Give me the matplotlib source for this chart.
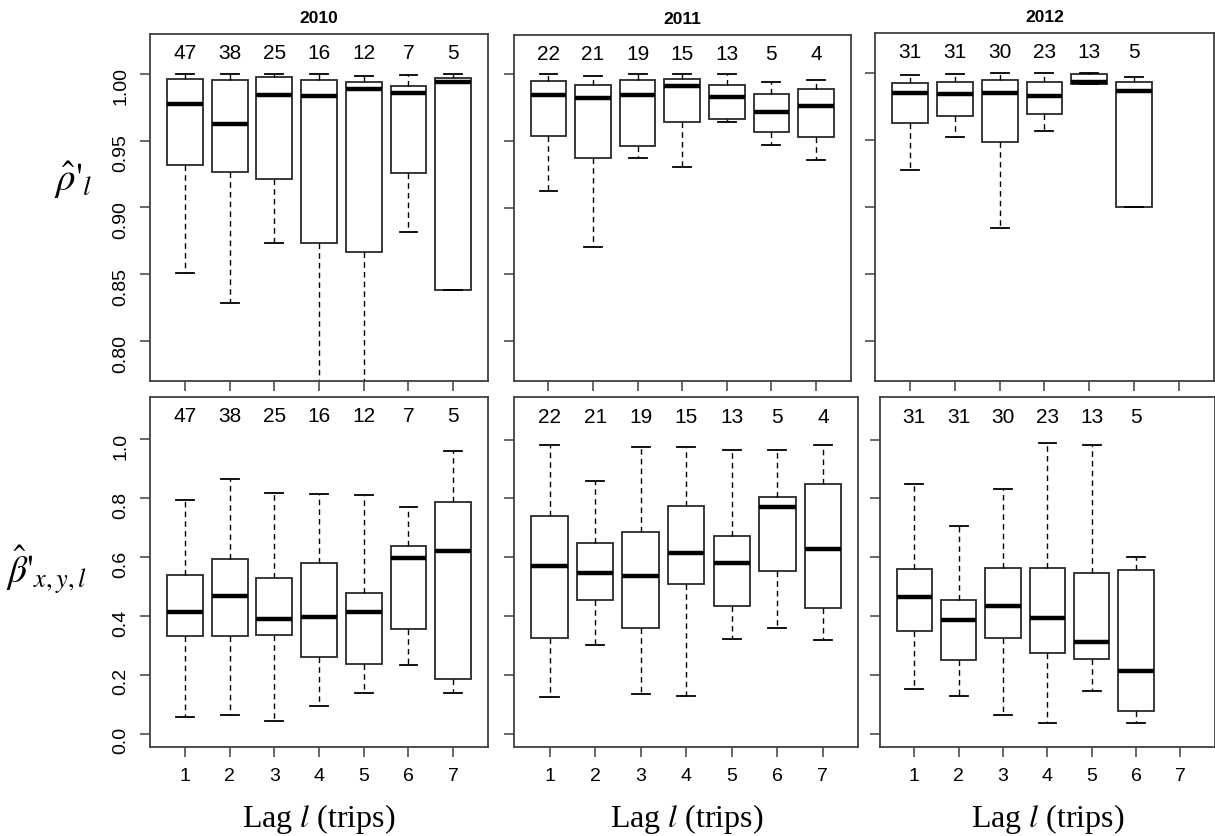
import matplotlib
matplotlib.use("Agg")
import matplotlib.pyplot as plt

plt.rcParams["font.family"] = ["Liberation Sans", "DejaVu Sans"]
plt.rcParams["mathtext.fontset"] = "stix"

years = ["2010", "2011", "2012"]
lags = [1, 2, 3, 4, 5, 6, 7]

n_2010 = [47, 38, 25, 16, 12, 7, 5]
n_2011 = [22, 21, 19, 15, 13, 5, 4]
n_2012 = [31, 31, 30, 23, 13, 5]

# five-number summaries per lag: (lower whisker, Q1, median, Q3, upper whisker)
rho_2010 = [
    (0.851, 0.932, 0.9775, 0.9962, 1.000),
    (0.8285, 0.9265, 0.9625, 0.9955, 1.000),
    (0.8738, 0.921, 0.984, 0.9975, 1.000),
    (0.700, 0.8738, 0.9833, 0.9955, 1.000),
    (0.700, 0.867, 0.9885, 0.994, 0.998),
    (0.882, 0.926, 0.9855, 0.991, 0.999),
    (0.8385, 0.8385, 0.9935, 0.997, 1.000),
]
rho_2011 = [
    (0.9128, 0.9538, 0.9845, 0.995, 1.000),
    (0.8703, 0.9373, 0.9825, 0.9918, 0.999),
    (0.9373, 0.9465, 0.9845, 0.9958, 1.000),
    (0.9308, 0.9645, 0.991, 0.9965, 1.000),
    (0.9645, 0.9668, 0.9833, 0.992, 1.000),
    (0.9468, 0.9565, 0.9718, 0.9853, 0.9943),
    (0.9358, 0.9533, 0.976, 0.989, 0.9958),
]
rho_2012 = [
    (0.9278, 0.963, 0.985, 0.9923, 0.9985),
    (0.9525, 0.968, 0.984, 0.993, 0.9993),
    (0.8843, 0.9488, 0.985, 0.995, 1.000),
    (0.9568, 0.9695, 0.9828, 0.993, 1.000),
    (0.992, 0.992, 0.9935, 0.9993, 1.000),
    (0.9003, 0.9003, 0.9865, 0.993, 0.997),
]

beta_2010 = [
    (0.058, 0.331, 0.4145, 0.539, 0.793),
    (0.065, 0.331, 0.4666, 0.5934, 0.865),
    (0.044, 0.334, 0.3907, 0.5277, 0.818),
    (0.094, 0.259, 0.3964, 0.581, 0.814),
    (0.139, 0.236, 0.4145, 0.479, 0.809),
    (0.232, 0.3545, 0.5957, 0.6376, 0.769),
    (0.139, 0.187, 0.6217, 0.7882, 0.960),
]
beta_2011 = [
    (0.125, 0.327, 0.572, 0.7395, 0.982),
    (0.301, 0.4564, 0.548, 0.6478, 0.858),
    (0.134, 0.360, 0.5357, 0.6863, 0.974),
    (0.130, 0.5096, 0.6138, 0.7758, 0.974),
    (0.322, 0.436, 0.581, 0.6738, 0.964),
    (0.360, 0.555, 0.7724, 0.8052, 0.964),
    (0.318, 0.429, 0.6274, 0.8482, 0.982),
]
beta_2012 = [
    (0.153, 0.351, 0.4655, 0.5606, 0.848),
    (0.130, 0.2525, 0.3873, 0.4564, 0.7055),
    (0.065, 0.324, 0.436, 0.5651, 0.831),
    (0.035, 0.275, 0.393, 0.5651, 0.9875),
    (0.146, 0.2548, 0.3114, 0.5459, 0.982),
    (0.035, 0.077, 0.2118, 0.5583, 0.6025),
]

rho_ticks = [0.80, 0.85, 0.90, 0.95, 1.00]
beta_ticks = [0.0, 0.2, 0.4, 0.6, 0.8, 1.0]

# axes rectangles [left, bottom, width, height] in figure fractions
top_pos = [
    [0.1235, 0.5443, 0.2782, 0.4150],
    [0.4228, 0.5447, 0.2774, 0.4134],
    [0.7204, 0.5447, 0.2784, 0.4155],
]
bottom_pos = [
    [0.1235, 0.1068, 0.2782, 0.4187],
    [0.4231, 0.1068, 0.2834, 0.4180],
    [0.7241, 0.1068, 0.2759, 0.4180],
]

EDGE = "#404040"


def draw_panel(ax, summary, counts, ylim, count_y):
    stats = [
        dict(whislo=lo, q1=q1, med=md, q3=q3, whishi=hi, fliers=[])
        for lo, q1, md, q3, hi in summary
    ]
    ax.bxp(
        stats,
        positions=lags[: len(stats)],
        widths=0.8,
        showfliers=False,
        patch_artist=True,
        boxprops=dict(facecolor="white", edgecolor="#2a2a2a", linewidth=1.3),
        medianprops=dict(color="black", linewidth=3.2),
        whiskerprops=dict(color="black", linewidth=1.0, linestyle=(0, (4, 3))),
        capprops=dict(color="black", linewidth=1.3),
    )
    for x, n in zip(lags, counts):
        ax.text(x, count_y, str(n), ha="center", va="center", fontsize=15)
    ax.set_xlim(0.22, 7.78)
    ax.set_ylim(*ylim)
    ax.set_xticks(lags)
    for s in ax.spines.values():
        s.set_color(EDGE)
        s.set_linewidth(1.3)
    ax.tick_params(direction="out", length=7, width=1.1, color=EDGE,
                   labelsize=14, pad=8)


fig = plt.figure(figsize=(12.15, 8.36), dpi=100)

rho_data = [rho_2010, rho_2011, rho_2012]
beta_data = [beta_2010, beta_2011, beta_2012]
counts = [n_2010, n_2011, n_2012]

for i in range(3):
    ax = fig.add_axes(top_pos[i])
    draw_panel(ax, rho_data[i], counts[i], (0.7704, 1.0296), 1.015)
    ax.set_yticks(rho_ticks)
    ax.set_xticklabels([])
    if i == 0:
        ax.set_yticklabels([f"{v:.2f}" for v in rho_ticks])
        ax.tick_params(axis="y", labelrotation=90)
    else:
        ax.set_yticklabels([])
    ax.set_title(years[i], fontsize=12.5, fontweight="bold", pad=8)

    bx = fig.add_axes(bottom_pos[i])
    draw_panel(bx, beta_data[i], counts[i], (-0.044, 1.144), 1.076)
    bx.set_yticks(beta_ticks)
    bx.set_xticklabels([str(v) for v in lags])
    if i == 0:
        bx.set_yticklabels([f"{v:.1f}" for v in beta_ticks])
        bx.tick_params(axis="y", labelrotation=90)
    else:
        bx.set_yticklabels([])
    p = bottom_pos[i]
    fig.text(p[0] + p[2] / 2, 0.011, "Lag $l$ (trips)", ha="center",
             va="baseline", fontsize=23, family="Liberation Serif")

fig.text(0.060, 1 - 180 / 836, r"$\hat{\rho}\text{'}_l$", ha="center",
         va="center", fontsize=28)
fig.text(0.038, 1 - 570 / 836, r"$\hat{\beta}\text{'}_{x,y,l}$", ha="center",
         va="center", fontsize=27)

fig.savefig("out.png", dpi=100)
plt.close(fig)
